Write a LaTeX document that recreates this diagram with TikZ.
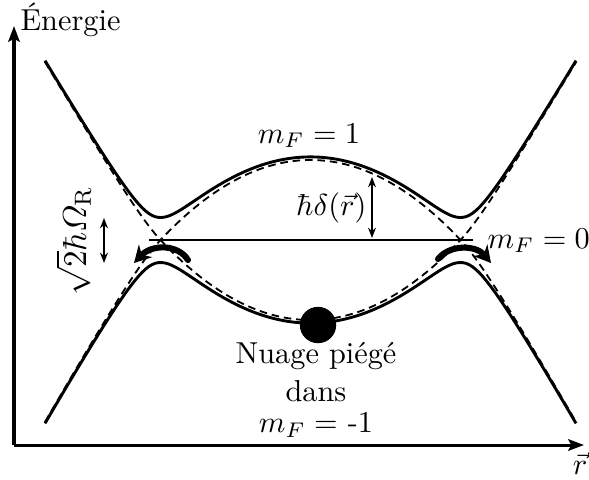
\documentclass[tikz,border=0pt]{standalone}
\usepackage{amsmath}
\usepackage{fontspec}
\usetikzlibrary{arrows.meta}
\begin{document}
\begin{tikzpicture}[x=0.33pt,y=-0.33pt,
  declare function={
    tt(\u)=max(abs(\u)-150,0);
    ff(\u)=ifthenelse(abs(\u)<150, 80*(1-(\u/150)^2),
      -1.0667*tt(\u)-0.55*(tt(\u)-20*(1-exp(-tt(\u)/20))));
    ffu(\u)=ff(\u)*(1+0.0001*tt(\u));
    ffl(\u)=ff(\u)*(1+0.0003*tt(\u));
    ad(\f)=10*sqrt((\f/10)^2+5.06);
  },
  axis/.style={line width=1pt,-{Stealth[length=5.2pt,width=3.8pt,inset=1pt]}},
  adiab/.style={line width=0.95pt},
  diab/.style={line width=0.6pt,dash pattern=on 2.5pt off 1.6pt},
  bigarr/.style={line width=2pt,line cap=round,-{Stealth[length=5.5pt,width=6pt]}},
  gaparr/.style={line width=0.5pt,{Stealth[length=3.4pt,width=2.6pt]}-{Stealth[length=3.4pt,width=2.6pt]}},
  lab/.style={inner sep=0pt}
]
\useasboundingbox (0,0) rectangle (589,479);
% axes
\coordinate (O) at (14,445);
\coordinate (ytip) at (14,26);
\coordinate (xtip) at (584,445);
\draw[axis] (O) -- (ytip);
\draw[axis] (O) -- (xtip);
\node[lab,anchor=base west] (ylab) at (20,30) {Énergie};
\node[lab] (xlab) at (580,464) {$\vec r$};
% diabatic (dashed)
\draw[diab] plot[domain=45:576,samples=160] (\x,{240-ffl(\x-310.5)});
\draw[diab] plot[domain=45:576,samples=160] (\x,{240+ffu(\x-310.5)});
% adiabatic (solid)
\draw[adiab] plot[domain=45:576,samples=160] (\x,{240-ad(ffu(\x-310.5))});
\draw[adiab] plot[domain=45:576,samples=160] (\x,{240+ad(ffl(\x-310.5))});
\coordinate (h0) at (149,240);
\coordinate (h1) at (473,240);
\draw[adiab] (h0) -- (h1);
% trapped cloud
\node[circle,fill,inner sep=0pt,minimum size=12pt] (cloud) at (318,325) {};
% curved arrows
\coordinate (la0) at (188,260);
\coordinate (la1) at (134,263);
\draw[bigarr] (la0) .. controls (178,244) and (152,244) .. (la1);
\coordinate (ra0) at (438,259);
\coordinate (ra1) at (491,263);
\draw[bigarr] (ra0) .. controls (450,244) and (476,245) .. (ra1);
% gap arrows
\coordinate (o0) at (104,218);
\coordinate (o1) at (104,263);
\draw[gaparr] (o0) -- (o1);
\coordinate (d0) at (372,177);
\coordinate (d1) at (372,238);
\draw[gaparr] (d0) -- (d1);
% labels
\node[lab,anchor=base] (l1) at (309,143) {$m_F = 1$};
\node[lab,anchor=base west] (l0) at (487,248) {$m_F = 0$};
\node[lab,anchor=base east] (ld) at (367,215) {$\hbar\delta(\vec r)$};
\node[lab,rotate=90,anchor=base,font=\fontsize{11}{13}\selectfont] (lo) at (86,241) {$\sqrt{2}\hbar\varOmega_{\mathrm{R}}$};
\node[lab,align=center,anchor=north] (cl) at (316,342) {Nuage piégé\\[0.5pt] dans\\[-1.8pt] $m_F =$ -1};
\end{tikzpicture}
\end{document}
